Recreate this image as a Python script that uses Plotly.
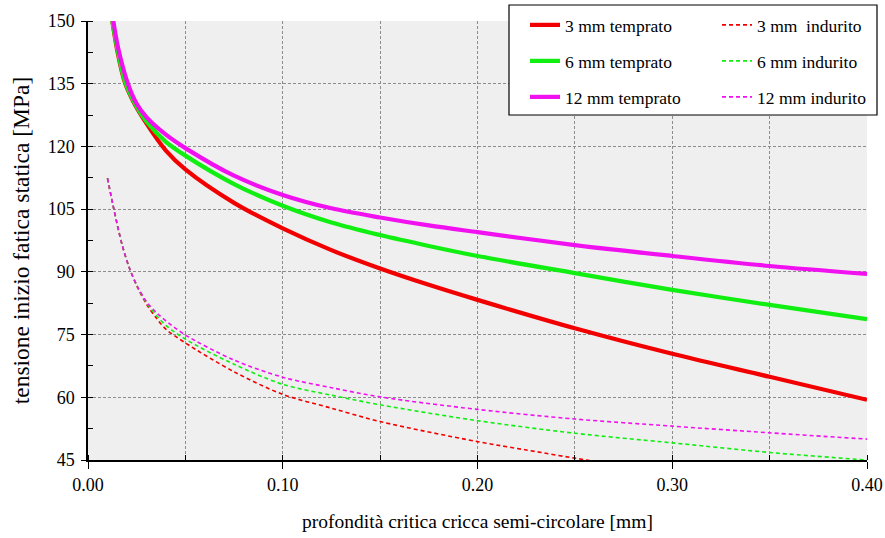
import plotly.graph_objects as go

# ---------------- data ----------------
# solid lines: "temprato"
x_3t = [0.0125, 0.015, 0.0188, 0.023, 0.03, 0.04, 0.05, 0.075, 0.10, 0.125, 0.15, 0.175, 0.20, 0.25, 0.30, 0.35, 0.40]
y_3t = [150, 143, 135.5, 131, 125.5, 119, 114.5, 106.5, 100.4, 95.2, 90.8, 86.9, 83.3, 76.5, 70.4, 64.9, 59.4]

x_6t = [0.0125, 0.015, 0.019, 0.025, 0.03, 0.04, 0.05, 0.075, 0.10, 0.125, 0.15, 0.175, 0.20, 0.25, 0.30, 0.35, 0.40]
y_6t = [150, 143.5, 135.5, 129.5, 126, 121.1, 117.8, 111, 105.8, 101.8, 98.8, 96.2, 93.8, 89.7, 85.7, 82.1, 78.7]

x_12t = [0.013, 0.0155, 0.0205, 0.025, 0.03, 0.04, 0.05, 0.075, 0.10, 0.125, 0.15, 0.175, 0.20, 0.25, 0.30, 0.35, 0.40]
y_12t = [150, 143.5, 135, 130.2, 127, 122.8, 119.6, 113, 108.4, 105.2, 103, 101.1, 99.5, 96.4, 93.8, 91.4, 89.5]

# dashed lines: "indurito"
x_3i = [0.010, 0.0135, 0.0175, 0.0212, 0.0254, 0.03, 0.035, 0.04, 0.05, 0.075, 0.10, 0.125, 0.15, 0.20, 0.225, 0.256, 0.27]
y_3i = [112.4, 104.5, 96.5, 91, 86.3, 82.3, 79, 76.3, 73, 66.1, 60.7, 57.4, 54.2, 49.4, 47.4, 45, 44.1]

x_6i = [0.010, 0.0135, 0.0175, 0.0212, 0.0254, 0.03, 0.035, 0.04, 0.05, 0.075, 0.10, 0.125, 0.15, 0.20, 0.25, 0.30, 0.35, 0.40]
y_6i = [112.4, 104.5, 96.5, 91, 86.4, 82.6, 79.6, 77.2, 73.9, 67.9, 63.1, 60.5, 58.2, 54.4, 51.4, 49.1, 46.8, 45]

x_12i = [0.010, 0.0135, 0.0175, 0.0212, 0.0254, 0.03, 0.035, 0.04, 0.05, 0.075, 0.10, 0.125, 0.15, 0.20, 0.25, 0.30, 0.35, 0.40]
y_12i = [112.4, 104.5, 96.5, 91, 86.5, 82.9, 80.3, 78.3, 74.9, 68.9, 64.8, 62.3, 60.1, 57.1, 54.8, 53.1, 51.5, 50.0]

names = ["3 mm temprato", "3 mm  indurito", "6 mm temprato", "6 mm indurito",
         "12 mm temprato", "12 mm indurito"]

x_title = "profondità critica cricca semi-circolare [mm]"
y_title = "tensione inizio fatica statica [MPa]"

# ---------------- styling ----------------
RED, GREEN, MAGENTA = "#f20000", "#11ee11", "#f010f0"
FONT = "Liberation Serif"

series = [
    (names[0], x_3t, y_3t, RED, "solid", 4.2, "legend"),
    (names[1], x_3i, y_3i, RED, "4px,3px", 1.6, "legend"),
    (names[2], x_6t, y_6t, GREEN, "solid", 4.2, "legend2"),
    (names[3], x_6i, y_6i, GREEN, "4px,3px", 1.6, "legend2"),
    (names[4], x_12t, y_12t, MAGENTA, "solid", 4.2, "legend3"),
    (names[5], x_12i, y_12i, MAGENTA, "4px,3px", 1.6, "legend3"),
]

fig = go.Figure()
order = [1, 3, 5, 0, 2, 4]
for i in order:
    name, xs, ys, col, dash, w, leg = series[i]
    fig.add_trace(go.Scatter(
        x=xs, y=ys, mode="lines", name=name,
        line=dict(color=col, width=w, dash=dash, shape="spline", smoothing=0.9),
        legend=leg, legendrank=i + 1,
    ))

W, H = 885, 538
L, R, T, B = 88, 18, 21, 78
pw, ph = W - L - R, H - T - B

def px_x(p):
    return (p - L) / pw

def px_y(p):
    return (T + ph - p) / ph

legend_common = dict(
    orientation="h", entrywidth=147, entrywidthmode="pixels",
    bgcolor="rgba(0,0,0,0)", borderwidth=0,
    font=dict(family=FONT, size=17.5, color="black"),
    xanchor="left", yanchor="middle", x=px_x(525),
)

fig.update_layout(
    width=W, height=H,
    margin=dict(l=L, r=R, t=T, b=B, autoexpand=False),
    paper_bgcolor="white",
    plot_bgcolor="#efefef",
    font=dict(family=FONT, size=18, color="black"),
    showlegend=True,
    legend=dict(legend_common, y=px_y(25)),
    legend2=dict(legend_common, y=px_y(61)),
    legend3=dict(legend_common, y=px_y(97)),
    shapes=[dict(
        type="rect", xref="paper", yref="paper",
        x0=px_x(509), x1=px_x(877), y0=px_y(115), y1=px_y(5),
        fillcolor="white", line=dict(color="black", width=1.2), layer="above",
    )],
)

fig.update_xaxes(
    range=[0, 0.40], dtick=0.1, tick0=0, tickformat=".2f",
    showline=True, linecolor="black", linewidth=1.5,
    ticks="outside", ticklen=7, tickcolor="black", tickwidth=1.2,
    ticklabelstandoff=1,
    showgrid=True, gridcolor="#8c8c8c", gridwidth=1, griddash="3px,2px",
    minor=dict(dtick=0.05, ticks="inside", ticklen=5, tickcolor="black",
               showgrid=True, gridcolor="#8c8c8c", gridwidth=1, griddash="3px,2px"),
    zeroline=False, fixedrange=True,
    tickfont=dict(family=FONT, size=18, color="black"),
    title=dict(text=x_title, font=dict(family=FONT, size=19.5, color="black"), standoff=20),
)

fig.update_yaxes(
    range=[45, 150], dtick=15, tick0=45,
    showline=True, linecolor="black", linewidth=1.5,
    ticks="outside", ticklen=5, tickcolor="black", tickwidth=1.2,
    ticklabelstandoff=3,
    showgrid=True, gridcolor="#8c8c8c", gridwidth=1, griddash="3px,2px",
    minor=dict(dtick=7.5, ticks="inside", ticklen=5, tickcolor="black", showgrid=False),
    zeroline=False, fixedrange=True,
    tickfont=dict(family=FONT, size=18, color="black"),
    title=dict(text=y_title, font=dict(family=FONT, size=23.5, color="black"), standoff=11),
)

fig.write_html("out.html", config={"displayModeBar": False},
               post_script="document.body.style.margin='0';")
